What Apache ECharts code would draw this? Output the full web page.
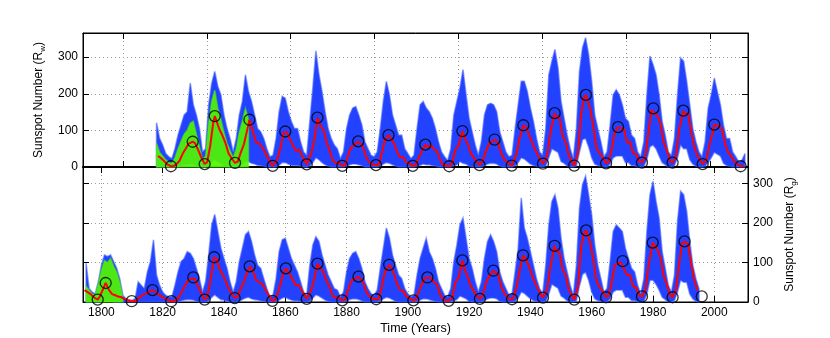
<!DOCTYPE html>
<html>
<head>
<meta charset="utf-8">
<script src="https://cdn.jsdelivr.net/npm/echarts@6/dist/echarts.min.js"></script>
<style>
  html, body { margin: 0; padding: 0; background: #fff; }
  #chart { width: 830px; height: 338px; }
</style>
</head>
<body>
<div id="chart"></div>
<script>
// ---- values ----
const xTickYears = [1800, 1820, 1840, 1860, 1880, 1900, 1920, 1940, 1960, 1980, 2000];
const yTickValues = [0, 100, 200, 300];
// upper panel grid is in datenum units (every 10000 days)
const topGridDatenums = [660000, 670000, 680000, 690000, 700000, 710000, 720000, 730000];

// upper panel: daily Wolf number envelope, one value per year from rwStartYear
const rwStartYear = 1818;
const rwHigh = [
  121, 78,
  60, 37, 28, 23, 50, 87, 115, 142, 151, 229,
  170, 142, 105, 41, 50, 170, 229, 261, 220, 197,
  142, 105, 78, 41, 78, 142, 179, 252, 206, 179,
  142, 105, 96, 78, 50, 28, 32, 78, 151, 193,
  188, 151, 124, 105, 105, 69, 41, 32, 124, 216,
  317, 252, 206, 151, 105, 78, 60, 50, 23, 41,
  105, 142, 161, 165, 142, 115, 69, 50, 32, 28,
  41, 105, 179, 234, 197, 142, 115, 87, 87, 50,
  37, 23, 32, 105, 170, 179, 161, 151, 133, 105,
  69, 41, 28, 18, 50, 142, 179, 216, 266, 197,
  133, 96, 60, 32, 69, 142, 170, 174, 170, 151,
  96, 69, 41, 28, 32, 105, 170, 234, 234, 206,
  161, 124, 78, 41, 32, 105, 252, 289, 321, 271,
  179, 133, 87, 50, 23, 105, 261, 326, 353, 307,
  234, 142, 105, 69, 28, 41, 115, 197, 211, 197,
  170, 133, 124, 87, 78, 41, 28, 69, 197, 303,
  280, 252, 197, 124, 87, 41, 32, 78, 197, 298,
  289, 234, 170, 105, 69, 41, 28, 69, 161, 197,
  243, 206, 170, 115, 78, 78, 41, 28, 14, 18,
  37
];
const rwLow = [
  0, 0,
  0, 0, 0, 0, 0, 0, 3, 6, 8, 8,
  8, 3, 0, 0, 0, 5, 15, 20, 15, 10,
  5, 2, 0, 0, 0, 3, 8, 15, 15, 10,
  8, 5, 4, 2, 0, 0, 0, 0, 5, 12,
  12, 8, 5, 4, 4, 2, 0, 0, 3, 12,
  25, 20, 12, 6, 3, 0, 0, 0, 0, 0,
  3, 6, 8, 8, 6, 4, 0, 0, 0, 0,
  0, 3, 8, 12, 10, 6, 3, 0, 0, 0,
  0, 0, 0, 2, 5, 8, 6, 6, 4, 3,
  0, 0, 0, 0, 0, 4, 6, 15, 10, 8,
  3, 0, 0, 0, 0, 4, 8, 10, 10, 8,
  3, 0, 0, 0, 0, 3, 12, 25, 22, 15,
  8, 4, 2, 0, 0, 3, 25, 50, 45, 40,
  15, 10, 3, 0, 0, 3, 40, 75, 78, 55,
  25, 8, 4, 2, 0, 0, 8, 25, 30, 30,
  30, 12, 12, 4, 4, 0, 0, 2, 20, 55,
  60, 50, 30, 12, 6, 0, 0, 4, 25, 60,
  50, 50, 20, 8, 2, 0, 0, 2, 12, 25,
  40, 35, 30, 10, 4, 2, 0, 0, 0, 0,
  0
];
// early (green) record in the upper panel
const rwGreenStart = 1818;
const rwGreenHigh = [
  65, 40, 30, 20, 12, 10, 25, 50, 70, 90, 100, 120, 125, 90, 55, 20,
  30, 120, 180, 210, 160, 130, 95, 65, 45, 25, 50, 95, 125, 160, 130
];
// smoothed Rw (red), one value per year, centred mid-year
const rwSmoothStart = 1818;
const rwSmooth = [
  30, 24,
  16, 7, 4, 2, 8, 17, 36, 50, 64, 67,
  66, 48, 28, 9, 13, 57, 121, 136, 103, 86,
  65, 37, 24, 11, 15, 40, 62, 98, 124, 96,
  67, 64, 54, 39, 21, 7, 4, 23, 55, 94,
  96, 77, 59, 44, 47, 31, 16, 7, 38, 74,
  134, 111, 102, 66, 45, 17, 11, 12, 3, 6,
  32, 54, 60, 64, 64, 52, 25, 13, 7, 6,
  7, 36, 73, 85, 78, 64, 42, 26, 27, 12,
  10, 3, 5, 24, 42, 60, 54, 60, 49, 44,
  19, 6, 4, 1, 10, 47, 57, 98, 81, 64,
  38, 26, 14, 6, 17, 44, 64, 69, 75, 65,
  36, 21, 11, 6, 9, 36, 80, 112, 110, 89,
  68, 48, 31, 16, 10, 33, 93, 140, 136, 135,
  84, 69, 32, 14, 4, 38, 142, 190, 185, 159,
  112, 54, 38, 28, 10, 15, 47, 94, 106, 106,
  105, 67, 69, 38, 35, 16, 13, 28, 93, 155,
  155, 140, 116, 67, 46, 18, 13, 29, 100, 150,
  143, 146, 94, 55, 30, 18, 9, 22, 64, 93,
  113, 111, 104, 64, 40, 30, 15, 8, 3, 3
];
// cycle minima / maxima (circles)
const rwExtYears = [1822.7, 1829.8, 1833.7, 1837.0, 1843.6, 1848.3, 1855.9, 1860.0, 1867.0, 1870.5,
  1878.6, 1883.8, 1889.6, 1893.7, 1901.6, 1905.7, 1913.5, 1917.8, 1923.4, 1928.3,
  1933.9, 1937.7, 1944.1, 1947.9, 1954.3, 1958.1, 1964.7, 1968.6, 1976.4, 1980.1,
  1986.4, 1989.9, 1996.2, 2000.0, 2008.6];
const rwExtValues = [2, 69, 8, 139, 11, 129, 3, 97, 7, 135,
  3, 70, 5, 87, 3, 61, 2, 98, 5, 75,
  4, 114, 9, 147, 4, 197, 10, 109, 12, 160,
  12, 154, 8, 116, 2];

// lower panel: group sunspot number envelope
const rgStartYear = 1795;
const rgHigh = [
  98, 34, 25, 21, 51,
  93, 119, 115, 119, 102, 85, 59, 17, 8, 4,
  4, 8, 51, 42, 34, 76, 102, 157, 68, 42,
  25, 17, 13, 13, 42, 76, 102, 110, 127, 123,
  110, 85, 59, 25, 51, 119, 195, 221, 178, 136,
  110, 85, 51, 25, 51, 102, 136, 170, 178, 153,
  119, 93, 85, 59, 34, 13, 17, 59, 127, 157,
  161, 136, 110, 93, 76, 51, 25, 17, 93, 144,
  165, 153, 119, 93, 68, 51, 34, 30, 13, 25,
  76, 110, 123, 127, 110, 85, 51, 34, 21, 17,
  30, 85, 136, 187, 161, 119, 93, 68, 59, 34,
  21, 13, 17, 68, 110, 136, 161, 127, 110, 85,
  51, 34, 17, 13, 34, 102, 144, 195, 212, 161,
  110, 85, 51, 25, 51, 110, 153, 170, 153, 127,
  76, 51, 34, 17, 21, 76, 136, 263, 187, 161,
  127, 93, 59, 34, 21, 93, 195, 254, 271, 237,
  161, 110, 76, 42, 17, 93, 237, 297, 318, 271,
  220, 144, 93, 59, 25, 34, 102, 178, 195, 187,
  178, 136, 110, 85, 76, 42, 21, 59, 178, 271,
  305, 254, 212, 127, 85, 42, 25, 68, 204, 280,
  271, 229, 153, 93, 59, 34
];
const rgLow = [
  0, 0, 0, 0, 0,
  0, 3, 3, 3, 0, 0, 0, 0, 0, 0,
  0, 0, 0, 0, 0, 0, 0, 0, 0, 0,
  0, 0, 0, 0, 0, 0, 3, 5, 6, 6,
  5, 2, 0, 0, 0, 3, 12, 18, 12, 6,
  5, 2, 0, 0, 0, 2, 6, 10, 12, 8,
  6, 5, 3, 2, 0, 0, 0, 0, 5, 10,
  12, 8, 5, 3, 3, 1, 0, 0, 2, 10,
  18, 15, 10, 5, 2, 0, 0, 0, 0, 0,
  2, 6, 8, 8, 6, 3, 0, 0, 0, 0,
  0, 3, 8, 12, 10, 6, 2, 0, 0, 0,
  0, 0, 0, 1, 5, 8, 8, 6, 4, 2,
  0, 0, 0, 0, 0, 3, 6, 15, 12, 8,
  2, 0, 0, 0, 0, 4, 8, 10, 10, 8,
  2, 0, 0, 0, 0, 2, 10, 25, 22, 15,
  8, 4, 2, 0, 0, 2, 20, 45, 40, 35,
  15, 10, 3, 0, 0, 3, 40, 70, 75, 55,
  25, 8, 4, 2, 0, 0, 8, 25, 30, 30,
  30, 12, 12, 4, 4, 0, 0, 2, 20, 55,
  55, 45, 30, 12, 6, 0, 0, 4, 25, 55,
  50, 50, 20, 8, 2, 0
];
const rgGreenStart = 1795;
const rgGreenHigh = [40, 30, 20, 18, 45, 80, 105, 100, 110, 90, 75, 50, 10];
const rgSmoothStart = 1794;
const rgSmooth = [
  30,
  25, 20, 12, 7, 14,
  32, 46, 30, 20, 17, 14, 12, 8, 5, 3,
  2, 4, 12, 18, 21, 25, 29, 26, 20, 15,
  10, 6, 3, 2, 5, 15, 30, 45, 55, 60,
  58, 40, 24, 8, 12, 50, 100, 110, 85, 70,
  55, 33, 22, 10, 15, 35, 50, 75, 88, 78,
  55, 50, 45, 32, 18, 6, 4, 20, 48, 75,
  84, 70, 55, 42, 42, 28, 15, 8, 30, 60,
  95, 85, 75, 52, 38, 15, 11, 11, 4, 6,
  30, 52, 58, 63, 60, 48, 25, 14, 8, 7,
  9, 38, 75, 92, 88, 70, 45, 30, 28, 14,
  10, 3, 5, 25, 43, 60, 58, 61, 50, 45,
  20, 6, 4, 2, 11, 50, 60, 103, 83, 65,
  40, 28, 15, 6, 18, 48, 65, 72, 78, 68,
  38, 22, 12, 6, 10, 38, 80, 115, 110, 90,
  68, 48, 32, 18, 12, 33, 88, 138, 128, 125,
  82, 68, 32, 16, 6, 38, 135, 175, 172, 150,
  108, 55, 38, 28, 13, 17, 48, 92, 98, 100,
  100, 68, 68, 40, 36, 17, 15, 28, 90, 145,
  145, 132, 110, 65, 45, 19, 14, 30, 95, 148,
  140, 145, 95, 55, 30
];
const rgExtYears = [1798.8, 1801.4, 1809.9, 1816.7, 1822.8, 1830.0, 1833.7, 1836.8, 1843.5, 1848.4,
  1855.8, 1860.2, 1867.0, 1870.5, 1878.6, 1883.9, 1889.7, 1893.9, 1901.8, 1906.4,
  1913.3, 1917.8, 1923.5, 1927.9, 1934.0, 1937.6, 1944.1, 1947.9, 1954.3, 1958.2,
  1964.7, 1970.1, 1976.4, 1979.9, 1986.4, 1990.3, 1995.9];
const rgExtValues = [6, 48, 2, 30, 2, 62, 6, 113, 10, 90,
  3, 85, 8, 97, 4, 64, 7, 94, 4, 62,
  3, 105, 8, 79, 7, 118, 11, 142, 6, 181,
  12, 103, 14, 150, 12, 153, 14];

// ---- chart ----
const FONT = "'Liberation Sans', Arial, Helvetica, sans-serif";
const X_MIN = 1794, X_MAX = 2011;
const BLUE = '#2242ff', BLUE_EDGE = 'rgba(60,90,255,0.55)';
const GREEN = 'rgba(80,245,0,0.92)', GREEN_EDGE = 'rgba(80,245,0,0.5)';
const RED = '#ff0000';

// datenum -> decimal year
const topGridYears = topGridDatenums.map(d => 1 + (d - 367) / 365.2425);

function bandSeries(start, highs, lows, fill, edge, xi, yi, z) {
  const data = highs.map((h, i) => [start + i, lows ? lows[i] : 0, h]);
  return {
    type: 'custom', xAxisIndex: xi, yAxisIndex: yi, z: z, silent: true,
    data: data,
    encode: { x: 0, y: [1, 2] },
    renderItem: function (params, api) {
      if (params.dataIndex !== 0) return null;
      const upper = data.map(d => api.coord([d[0], d[2]]));
      const lower = data.map(d => api.coord([d[0], d[1]])).reverse();
      return {
        type: 'polygon',
        shape: { points: upper.concat(lower) },
        style: { fill: fill, stroke: edge, lineWidth: 1.6, lineJoin: 'miter', miterLimit: 4 }
      };
    }
  };
}

function smoothCurve(start, vals, extYears, extVals) {
  const pts = vals.map((v, i) => [start + i + 0.5, v]);
  const last = pts[pts.length - 1][0];
  const ext = extYears.map((y, i) => [y, extVals[i]]).filter(p => p[0] <= last + 0.5);
  const kept = pts.filter(p => !ext.some(e => Math.abs(e[0] - p[0]) < 0.45));
  return kept.concat(ext).sort((a, b) => a[0] - b[0]);
}

const dotted = { show: true, lineStyle: { color: '#9a9a9a', type: [1, 3], width: 1 } };
const blackLine = { show: true, onZero: false, lineStyle: { color: '#000', width: 1 } };
function ticksIn(vals) {
  return { show: true, inside: true, length: 6, customValues: vals, lineStyle: { color: '#000', width: 1 } };
}
const labelStyle = { color: '#000', fontSize: 12, fontFamily: FONT, formatter: v => String(v) };
const nameRich = {
  t: { fontSize: 12, fontFamily: FONT, color: '#000', lineHeight: 16 },
  s: { fontSize: 8, fontFamily: FONT, color: '#000', lineHeight: 8, verticalAlign: 'bottom' }
};

const chart = echarts.init(document.getElementById('chart'));
chart.setOption({
  animation: false,
  backgroundColor: '#fff',
  grid: [
    { left: 83, right: 82, top: 33, height: 134, show: true, borderColor: '#000', borderWidth: 1 },
    { left: 83, right: 82, top: 167, height: 135, show: true, borderColor: '#000', borderWidth: 1 }
  ],
  xAxis: [
    { gridIndex: 0, type: 'value', min: X_MIN, max: X_MAX, position: 'bottom',
      axisLine: { show: true, onZero: false, lineStyle: { color: '#000', width: 2 } },
      axisTick: ticksIn(topGridYears), axisLabel: { show: false }, splitLine: dotted },
    { gridIndex: 0, type: 'value', min: X_MIN, max: X_MAX, position: 'top',
      axisLine: blackLine, axisTick: ticksIn(topGridYears), axisLabel: { show: false }, splitLine: { show: false } },
    { gridIndex: 1, type: 'value', min: X_MIN, max: X_MAX, position: 'bottom',
      axisLine: blackLine, axisTick: ticksIn(xTickYears),
      axisLabel: Object.assign({ customValues: xTickYears, margin: 5 }, labelStyle),
      splitLine: dotted,
      name: 'Time (Years)', nameLocation: 'middle', nameGap: 20,
      nameTextStyle: { color: '#000', fontSize: 12.5, fontFamily: FONT } },
    { gridIndex: 1, type: 'value', min: X_MIN, max: X_MAX, position: 'top',
      axisLine: blackLine, axisTick: ticksIn(xTickYears), axisLabel: { show: false }, splitLine: { show: false } }
  ],
  yAxis: [
    { gridIndex: 0, type: 'value', min: 0, max: 366, position: 'left',
      axisLine: blackLine, axisTick: ticksIn(yTickValues),
      axisLabel: Object.assign({ customValues: yTickValues, margin: 5 }, labelStyle),
      splitLine: dotted,
      name: '{t|Sunspot Number (R}{s|w}{t|)}', nameLocation: 'middle', nameGap: 36, nameRotate: 90,
      nameTextStyle: { rich: nameRich } },
    { gridIndex: 0, type: 'value', min: 0, max: 366, position: 'right',
      axisLine: blackLine, axisTick: ticksIn(yTickValues), axisLabel: { show: false }, splitLine: { show: false } },
    { gridIndex: 1, type: 'value', min: 0, max: 341, position: 'left',
      axisLine: blackLine, axisTick: ticksIn(yTickValues), axisLabel: { show: false }, splitLine: dotted },
    { gridIndex: 1, type: 'value', min: 0, max: 341, position: 'right',
      axisLine: blackLine, axisTick: ticksIn(yTickValues),
      axisLabel: Object.assign({ customValues: yTickValues, margin: 5 }, labelStyle),
      splitLine: { show: false },
      name: '{t|Sunspot Number (R}{s|g}{t|)}', nameLocation: 'middle', nameGap: 31, nameRotate: 90,
      nameTextStyle: { rich: nameRich } }
  ],
  series: [
    bandSeries(rwStartYear, rwHigh, rwLow, BLUE, BLUE_EDGE, 0, 0, 2),
    bandSeries(rwGreenStart, rwGreenHigh, null, GREEN, GREEN_EDGE, 0, 0, 3),
    { type: 'line', xAxisIndex: 0, yAxisIndex: 0, z: 4, symbol: 'none', silent: true,
      data: smoothCurve(rwSmoothStart, rwSmooth, rwExtYears, rwExtValues),
      lineStyle: { color: RED, width: 2 } },
    { type: 'scatter', xAxisIndex: 0, yAxisIndex: 0, z: 5, silent: true, symbol: 'circle', symbolSize: 11,
      data: rwExtYears.map((y, i) => [y, rwExtValues[i]]),
      itemStyle: { color: 'rgba(0,0,0,0)', borderColor: '#000', borderWidth: 1.3 } },

    bandSeries(rgStartYear, rgHigh, rgLow, BLUE, BLUE_EDGE, 2, 3, 2),
    bandSeries(rgGreenStart, rgGreenHigh, null, GREEN, GREEN_EDGE, 2, 3, 3),
    { type: 'line', xAxisIndex: 2, yAxisIndex: 3, z: 4, symbol: 'none', silent: true,
      data: smoothCurve(rgSmoothStart, rgSmooth, rgExtYears, rgExtValues),
      lineStyle: { color: RED, width: 2 } },
    { type: 'scatter', xAxisIndex: 2, yAxisIndex: 3, z: 5, silent: true, symbol: 'circle', symbolSize: 11,
      data: rgExtYears.map((y, i) => [y, rgExtValues[i]]),
      itemStyle: { color: 'rgba(0,0,0,0)', borderColor: '#000', borderWidth: 1.3 } }
  ]
});
</script>
</body>
</html>
